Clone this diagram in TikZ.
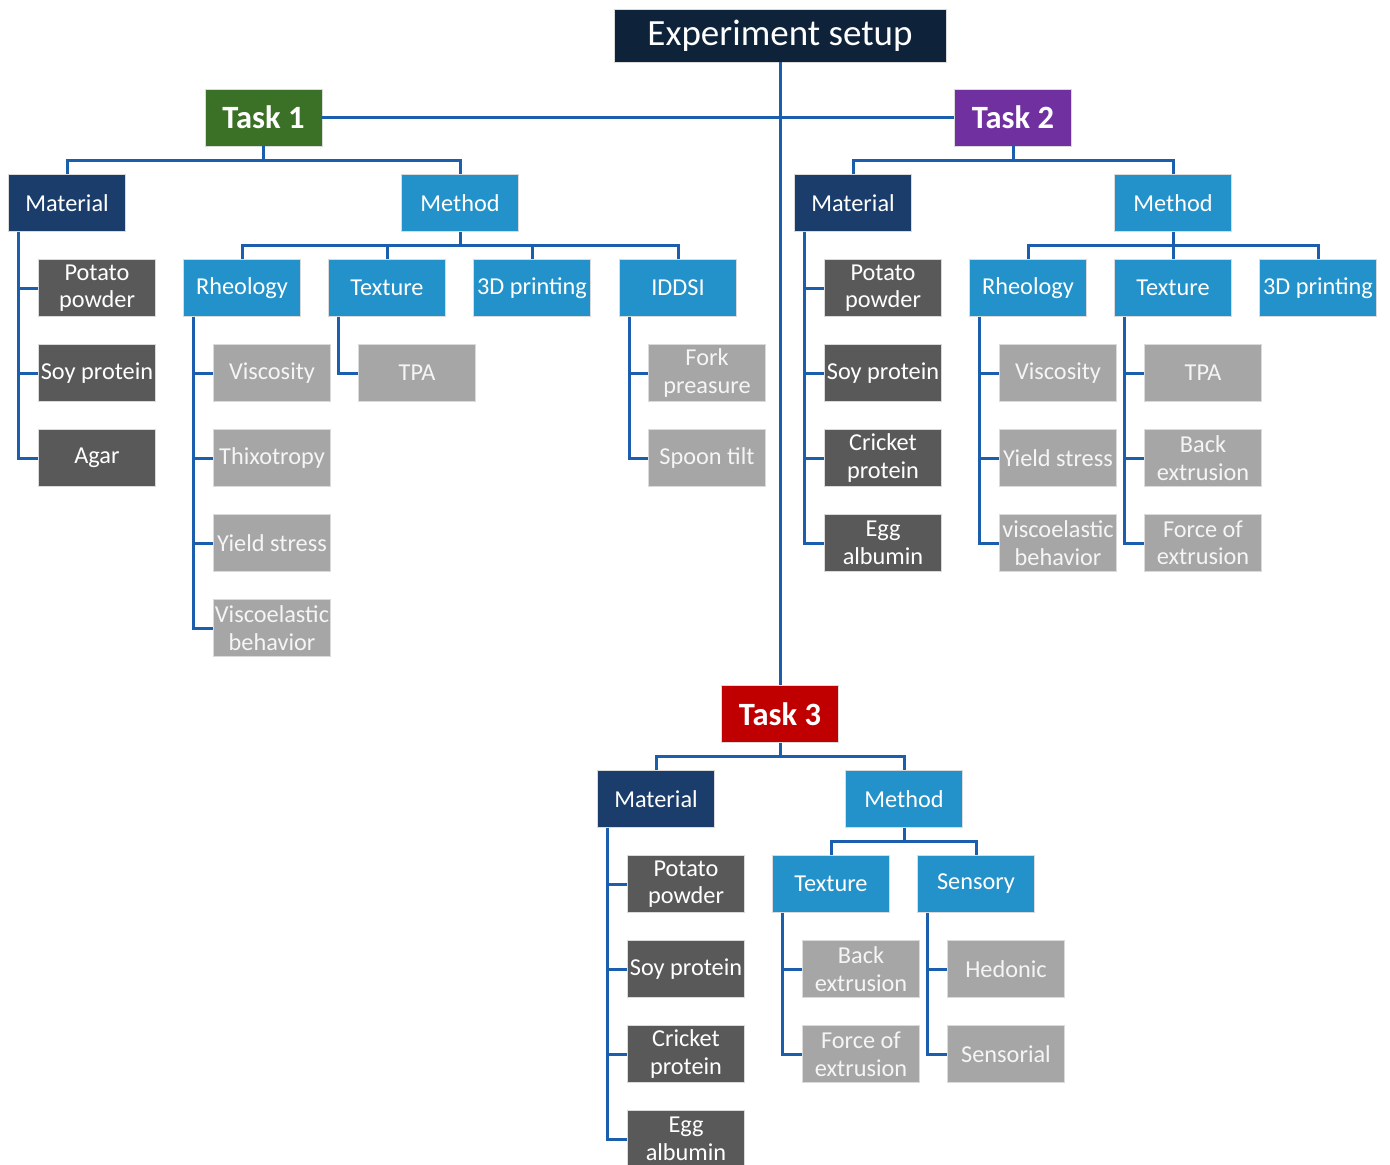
\documentclass[tikz,border=0pt]{standalone}
\usepackage{fontspec}
\setmainfont{Carlito}
\definecolor{cTop}{HTML}{0E2239}
\definecolor{cT1}{HTML}{3A7126}
\definecolor{cT2}{HTML}{7030A0}
\definecolor{cT3}{HTML}{C00000}
\definecolor{cMat}{HTML}{1A3D6B}
\definecolor{cMet}{HTML}{2492CA}
\definecolor{cDark}{HTML}{595959}
\definecolor{cLight}{HTML}{A6A6A6}
\definecolor{cLine}{HTML}{1A5EAD}
\definecolor{cBorder}{HTML}{DADADA}
\tikzset{
  box/.style={rectangle, draw=cBorder, line width=0.8pt, minimum width=117pt, minimum height=57pt,
    inner sep=0pt, align=center, text=white, font=\fontsize{24.3}{27.5}\selectfont},
  topbox/.style={box, fill=cTop, minimum width=332pt, minimum height=53pt, font=\fontsize{37}{42}\selectfont},
  taskbox/.style={box, font=\fontsize{32.5}{36}\selectfont\bfseries},
  matbox/.style={box, fill=cMat},
  metbox/.style={box, fill=cMet},
  darkbox/.style={box, fill=cDark},
  lightbox/.style={box, fill=cLight, text=white!96!black},
  conn/.style={draw=cLine, line width=3pt}
}
\begin{document}
\begin{tikzpicture}[x=1pt,y=-1pt]
\useasboundingbox (0,0) rectangle (1390,1165);
% top
\node[topbox] (es) at (780,35.5) {Experiment setup};
\node[taskbox, fill=cT1] (t1) at (263.5,117.5) {Task 1};
\node[taskbox, fill=cT2] (t2) at (1013,117.5) {Task 2};
\node[taskbox, fill=cT3] (t3) at (780,714) {Task 3};
% Task 1
\node[matbox] (mat1) at (67,203) {Material};
\node[metbox] (met1) at (460,203) {Method};
\node[metbox] (rh1) at (242,288) {Rheology};
\node[metbox] (tx1) at (387,288) {Texture};
\node[metbox] (pr1) at (532,288) {3D printing};
\node[metbox] (id1) at (678,288) {IDDSI};
\node[darkbox] (m1a) at (97,288) {Potato\\powder};
\node[darkbox] (m1b) at (97,373) {Soy protein};
\node[darkbox] (m1c) at (97,458) {Agar};
\node[lightbox] (r1a) at (272,373) {Viscosity};
\node[lightbox] (r1b) at (272,458) {Thixotropy};
\node[lightbox] (r1c) at (272,543) {Yield stress};
\node[lightbox] (r1d) at (272,628) {Viscoelastic\\behavior};
\node[lightbox] (x1a) at (417,373) {TPA};
\node[lightbox] (i1a) at (707,373) {Fork\\preasure};
\node[lightbox] (i1b) at (707,458) {Spoon tilt};
% Task 2
\node[matbox] (mat2) at (853,203) {Material};
\node[metbox] (met2) at (1173,203) {Method};
\node[metbox] (rh2) at (1028,288) {Rheology};
\node[metbox] (tx2) at (1173,288) {Texture};
\node[metbox] (pr2) at (1318,288) {3D printing};
\node[darkbox] (m2a) at (883,288) {Potato\\powder};
\node[darkbox] (m2b) at (883,373) {Soy protein};
\node[darkbox] (m2c) at (883,458) {Cricket\\protein};
\node[darkbox] (m2d) at (883,543) {Egg\\albumin};
\node[lightbox] (r2a) at (1058,373) {Viscosity};
\node[lightbox] (r2b) at (1058,458) {Yield stress};
\node[lightbox] (r2c) at (1058,543) {viscoelastic\\behavior};
\node[lightbox] (x2a) at (1203,373) {TPA};
\node[lightbox] (x2b) at (1203,458) {Back\\extrusion};
\node[lightbox] (x2c) at (1203,543) {Force of\\extrusion};
% Task 3
\node[matbox] (mat3) at (656,799) {Material};
\node[metbox] (met3) at (904,799) {Method};
\node[metbox] (tx3) at (831,884) {Texture};
\node[metbox] (se3) at (976,884) {Sensory};
\node[darkbox] (m3a) at (686,884) {Potato\\powder};
\node[darkbox] (m3b) at (686,969) {Soy protein};
\node[darkbox] (m3c) at (686,1054) {Cricket\\protein};
\node[darkbox] (m3d) at (686,1139) {Egg\\albumin};
\node[lightbox] (x3a) at (861,969) {Back\\extrusion};
\node[lightbox] (x3b) at (861,1054) {Force of\\extrusion};
\node[lightbox] (s3a) at (1006,969) {Hedonic};
\node[lightbox] (s3b) at (1006,1054) {Sensorial};
% main connectors
\draw[conn] (es.south) -- (t3.north);
\draw[conn] (t1.east) -- (t2.west);
% task brackets
\draw[conn] (t1.south) -- ++(0,14);
\draw[conn] (mat1.north) -- ++(0,-14) -| (met1.north);
\draw[conn] (t2.south) -- ++(0,14);
\draw[conn] (mat2.north) -- ++(0,-14) -| (met2.north);
\draw[conn] (t3.south) -- ++(0,14);
\draw[conn] (mat3.north) -- ++(0,-14) -| (met3.north);
% method brackets
\draw[conn] (met1.south) -- ++(0,14);
\draw[conn] (rh1.north) -- ++(0,-14) -| (id1.north);
\draw[conn] (tx1.north) -- ++(0,-14);
\draw[conn] (pr1.north) -- ++(0,-14);
\draw[conn] (met2.south) -- ++(0,14);
\draw[conn] (rh2.north) -- ++(0,-14) -| (pr2.north);
\draw[conn] (tx2.north) -- ++(0,-14);
\draw[conn] (met3.south) -- ++(0,14);
\draw[conn] (tx3.north) -- ++(0,-14) -| (se3.north);
% lists
\foreach \p/\c in {mat1/m1a,mat1/m1b,mat1/m1c,rh1/r1a,rh1/r1b,rh1/r1c,rh1/r1d,tx1/x1a,id1/i1a,id1/i1b,
  mat2/m2a,mat2/m2b,mat2/m2c,mat2/m2d,rh2/r2a,rh2/r2b,rh2/r2c,tx2/x2a,tx2/x2b,tx2/x2c,
  mat3/m3a,mat3/m3b,mat3/m3c,mat3/m3d,tx3/x3a,tx3/x3b,se3/s3a,se3/s3b}
  \draw[conn] ([xshift=10pt]\p.south west) |- (\c.west);
\end{tikzpicture}
\end{document}
